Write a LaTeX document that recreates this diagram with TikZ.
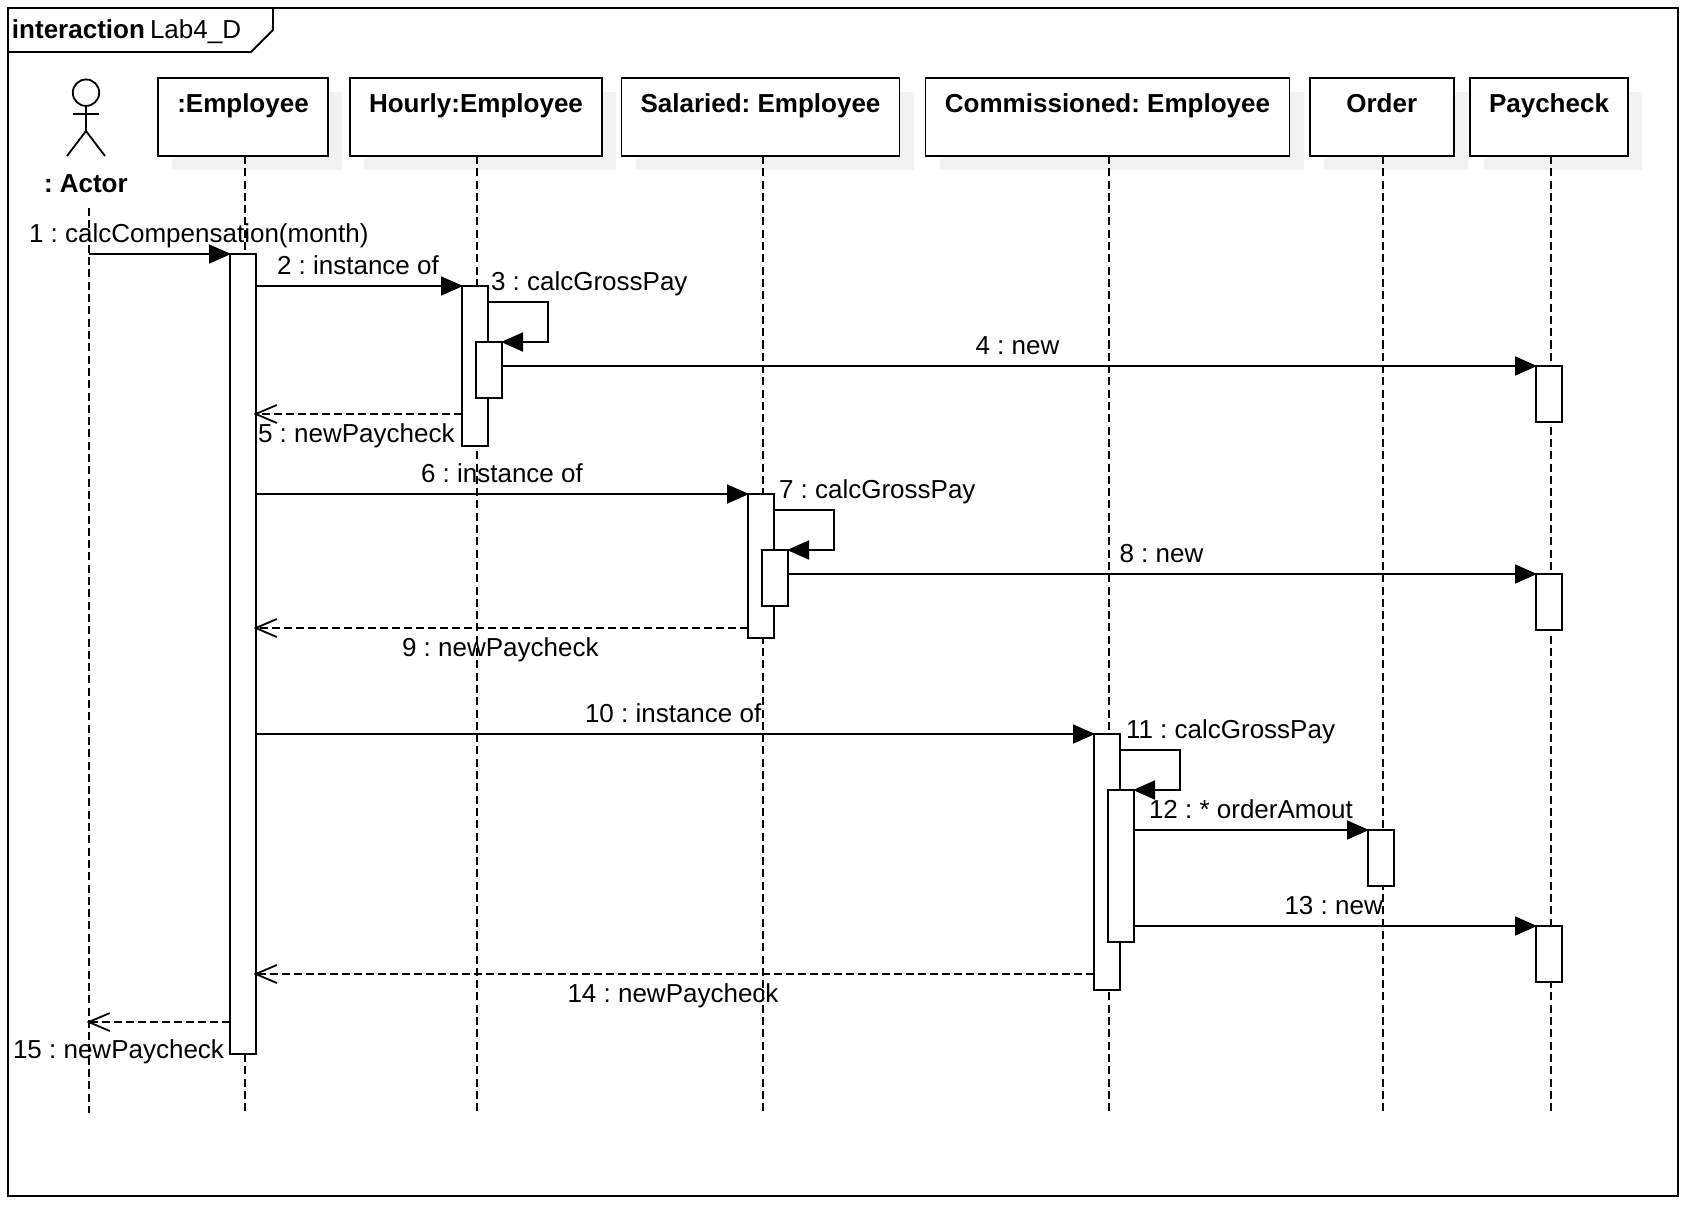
\documentclass[tikz,border=0pt]{standalone}
\usepackage{fontspec}
\setmainfont{Liberation Sans}
\usetikzlibrary{arrows.meta,shadows}
\definecolor{shadowgrey}{HTML}{F2F2F2}
\frenchspacing
\tikzset{
  every node/.style={inner sep=0pt,outer sep=0pt},
  thick line/.style={line width=1.8pt},
  obj/.style={draw,fill=white,thick line,minimum height=78pt,text height=35pt,text depth=43pt,
    font=\fontsize{26}{30}\selectfont\bfseries,
    general shadow={fill=shadowgrey,shadow xshift=14pt,shadow yshift=-14pt}},
  bar/.style={draw,fill=white,thick line,minimum width=26pt},
  life/.style={line width=2pt,dash pattern=on 8pt off 4.3pt},
  msg/.style={thick line,shorten >=-1pt,-{Triangle[length=22pt,width=19pt]}},
  ret/.style={thick line,dash pattern=on 8pt off 4pt,shorten >=-2.5pt,-{Straight Barb[length=21pt,width=18pt,line width=1.8pt]}},
  lab/.style={anchor=base west,font=\fontsize{26}{30}\selectfont},
  blab/.style={anchor=base west,font=\fontsize{26}{30}\selectfont\bfseries},
}
\begin{document}
\frenchspacing
\begin{tikzpicture}[x=1pt,y=-1pt]
\useasboundingbox (0,0) rectangle (1696,1214);
\fill[white] (0,0) rectangle (1696,1214);
% frame
\draw[thick line] (8,8) rectangle (1678,1196);
\draw[thick line] (8,52) -- (251,52) -- (273,30) -- (273,8);
% objects
\node[obj,minimum width=170pt] (emp) at (243,117) {:Employee};
\node[obj,minimum width=252.5pt] (hou) at (476,117) {Hourly:Employee};
\node[obj,minimum width=278pt] (sal) at (760.5,117) {Salaried: Employee};
\node[obj,minimum width=364pt] (com) at (1107.5,117) {Commissioned: Employee};
\node[obj,minimum width=144pt] (ord) at (1381.7,117) {Order};
\node[obj,minimum width=158pt] (pay) at (1549,117) {Paycheck};
% lifeline ends
\coordinate (act0) at (89,208);
\coordinate (act1) at (89,1113);
\coordinate (emp1) at (245,1112);
\coordinate (hou1) at (477,1112);
\coordinate (sal1) at (763,1112);
\coordinate (com1) at (1109,1112);
\coordinate (ord1) at (1383,1112);
\coordinate (pay1) at (1551,1112);
\draw[life] (act0) -- (act1);
\draw[life] (emp1 |- emp.south) -- (emp1);
\draw[life] (hou1 |- hou.south) -- (hou1);
\draw[life] (sal1 |- sal.south) -- (sal1);
\draw[life] (com1 |- com.south) -- (com1);
\draw[life] (ord1 |- ord.south) -- (ord1);
\draw[life] (pay1 |- pay.south) -- (pay1);
% actor
\draw[thick line] (86,92.7) circle (13.2);
\draw[thick line] (86,106) -- (86,131);
\draw[thick line] (72.5,114) -- (99,114);
\draw[thick line] (67,156) -- (86,131) -- (105,156);
\node[blab] (actor) at (44,193) {: Actor};
% activation bars
\node[bar,minimum height=800pt] (e) at (243,654) {};
\node[bar,minimum height=160pt] (h) at (475,366) {};
\node[bar,minimum height=56pt] (hi) at (489,370) {};
\node[bar,minimum height=144pt] (s) at (761,566) {};
\node[bar,minimum height=56pt] (si) at (775,578) {};
\node[bar,minimum height=256pt] (c) at (1107,862) {};
\node[bar,minimum height=152pt] (ci) at (1121,866) {};
\node[bar,minimum height=56pt] (o) at (1381,858) {};
\node[bar,minimum height=56pt] (p1) at (1549,394) {};
\node[bar,minimum height=56pt] (p2) at (1549,602) {};
\node[bar,minimum height=56pt] (p3) at (1549,954) {};
% messages
\draw[msg] (act0 |- e.north) -- (e.north west);
\draw[msg] (e.east |- h.north) -- (h.north west);
\draw[msg] (h.east |- 0,302) -- (548,302) -- (548,342) -- (hi.north east);
\draw[msg] (hi.east |- p1.north) -- (p1.north west);
\draw[ret] (h.west |- 0,414) -- (e.east |- 0,414);
\draw[msg] (e.east |- s.north) -- (s.north west);
\draw[msg] (s.east |- 0,510) -- (834,510) -- (834,550) -- (si.north east);
\draw[msg] (si.east |- p2.north) -- (p2.north west);
\draw[ret] (s.west |- 0,628) -- (e.east |- 0,628);
\draw[msg] (e.east |- c.north) -- (c.north west);
\draw[msg] (c.east |- 0,750) -- (1180,750) -- (1180,790) -- (ci.north east);
\draw[msg] (ci.east |- o.north) -- (o.north west);
\draw[msg] (ci.east |- p3.north) -- (p3.north west);
\draw[ret] (c.west |- 0,974) -- (e.east |- 0,974);
\draw[ret] (e.west |- 0,1022) -- (act0 |- 0,1022);
% labels
\node[blab] (ft) at (12,39) {interaction};
\node[lab] (fn) at (150,39) {Lab4\_D};
\node[lab] (l1) at (29,243) {1 : calcCompensation(month)};
\node[lab] (l2) at (277,275) {2 : instance of};
\node[lab] (l3) at (491,291) {3 : calcGrossPay};
\node[lab] (l4) at (975.5,354) {4 : new};
\node[lab] (l5) at (258,442) {5 : newPaycheck};
\node[lab] (l6) at (421,482) {6 : instance of};
\node[lab] (l7) at (779,498) {7 : calcGrossPay};
\node[lab] (l8) at (1119.5,562) {8 : new};
\node[lab] (l9) at (402,656) {9 : newPaycheck};
\node[lab] (l10) at (585,722) {10 : instance of};
\node[lab] (l11) at (1126,738) {11 : calcGrossPay};
\node[lab] (l12) at (1149,818) {12 : * orderAmout};
\node[lab] (l13) at (1284.5,914) {13 : new};
\node[lab] (l14) at (567.5,1002.5) {14 : newPaycheck};
\node[lab] (l15) at (13,1058.5) {15 : newPaycheck};
\end{tikzpicture}
\end{document}
